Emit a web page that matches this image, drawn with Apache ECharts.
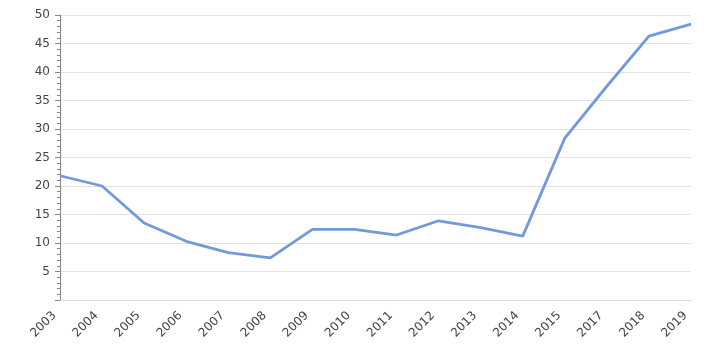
<!DOCTYPE html>
<html><head><meta charset="utf-8">
<script src="https://cdn.jsdelivr.net/npm/echarts@6/dist/echarts.min.js"></script>
<style>html,body{margin:0;padding:0;background:#fff}#c{width:720px;height:350px}</style>
</head><body><div id="c"></div>
<script>
const categories = ['2003','2004','2005','2006','2007','2008','2009','2010','2011','2012','2013','2014','2015','2017','2018','2019'];
const values = [21.8, 20.0, 13.5, 10.3, 8.3, 7.4, 12.4, 12.4, 11.4, 13.9, 12.7, 11.2, 28.4, 37.5, 46.3, 48.4];
const yTicks = {min: 0, max: 50, interval: 5};

const chart = echarts.init(document.getElementById('c'));
chart.setOption({
  animation: false,
  grid: {left: 60, right: 29, top: 15, bottom: 50},
  xAxis: {
    type: 'category', data: categories, boundaryGap: false,
    axisLine: {show: true, lineStyle: {color: '#dddddd'}},
    axisTick: {show: false},
    axisLabel: {rotate: 45, color: '#444', fontFamily: 'DejaVu Sans', fontSize: 12, margin: 8, interval: 0,
      padding: [0, 8, 0, 0]}
  },
  yAxis: {
    type: 'value', min: yTicks.min, max: yTicks.max, interval: yTicks.interval,
    axisLine: {show: true, lineStyle: {color: '#888'}},
    axisTick: {show: true, inside: false, length: 5, lineStyle: {color: '#888'}},
    minorTick: {show: true, splitNumber: 5, length: 3, lineStyle: {color: '#888'}},
    splitLine: {show: true, lineStyle: {color: '#e3e3e3'}},
    axisLabel: {color: '#444', fontFamily: 'DejaVu Sans', fontSize: 12, margin: 10,
      formatter: v => v === 0 ? '' : String(v)}
  },
  series: [{
    type: 'line', data: values, symbol: 'none',
    lineStyle: {color: '#7399dd', width: 2.8}
  }]
});
</script></body></html>
